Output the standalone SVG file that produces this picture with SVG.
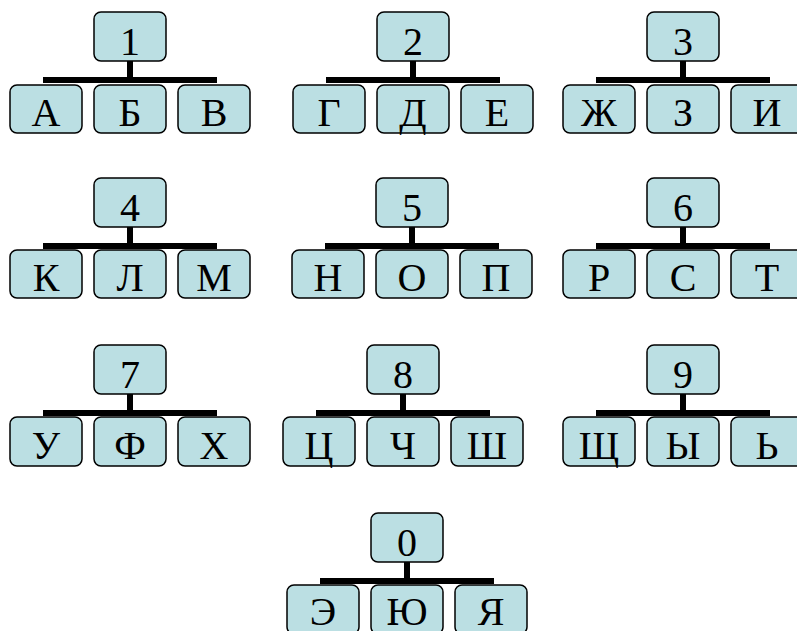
<svg xmlns="http://www.w3.org/2000/svg" width="797" height="631" viewBox="0 0 797 631">
<style>
.b{fill:#bbdfe3;stroke:#000;stroke-width:1.5}
.t{font-family:"Liberation Serif","Times New Roman",serif;font-size:40px;fill:#000;text-anchor:middle}
.c{fill:#000}
</style>
<rect width="797" height="631" fill="#fff"/>
<g id="connectors">
<rect class="c" x="127" y="61" width="6" height="19"/><rect class="c" x="43" y="77" width="174" height="6"/>
<rect class="c" x="410" y="61" width="6" height="19"/><rect class="c" x="326" y="77" width="174" height="6"/>
<rect class="c" x="680" y="61" width="6" height="19"/><rect class="c" x="596" y="77" width="174" height="6"/>
<rect class="c" x="127" y="227" width="6" height="19"/><rect class="c" x="43" y="243" width="174" height="6"/>
<rect class="c" x="409" y="227" width="6" height="19"/><rect class="c" x="325" y="243" width="174" height="6"/>
<rect class="c" x="680" y="227" width="6" height="19"/><rect class="c" x="596" y="243" width="174" height="6"/>
<rect class="c" x="127" y="394" width="6" height="19"/><rect class="c" x="43" y="410" width="174" height="6"/>
<rect class="c" x="400" y="394" width="6" height="19"/><rect class="c" x="316" y="410" width="174" height="6"/>
<rect class="c" x="680" y="394" width="6" height="19"/><rect class="c" x="596" y="410" width="174" height="6"/>
<rect class="c" x="404" y="562" width="6" height="19"/><rect class="c" x="320" y="578" width="174" height="6"/>
</g>
<g id="n1"><rect class="b" x="94" y="12" width="72" height="49" rx="7"/><text class="t" x="130" y="55">1</text></g>
<g id="nA"><rect class="b" x="10" y="85" width="72" height="48" rx="7"/><text class="t" x="46" y="126">А</text></g>
<g id="nB"><rect class="b" x="94" y="85" width="72" height="48" rx="7"/><text class="t" x="130" y="126">Б</text></g>
<g id="nV"><rect class="b" x="178" y="85" width="72" height="48" rx="7"/><text class="t" x="214" y="126">В</text></g>
<g id="n2"><rect class="b" x="377" y="12" width="72" height="49" rx="7"/><text class="t" x="413" y="55">2</text></g>
<g id="nG"><rect class="b" x="293" y="85" width="72" height="48" rx="7"/><text class="t" x="329" y="126">Г</text></g>
<g id="nD"><rect class="b" x="377" y="85" width="72" height="48" rx="7"/><text class="t" x="413" y="126">Д</text></g>
<g id="nE"><rect class="b" x="461" y="85" width="72" height="48" rx="7"/><text class="t" x="497" y="126">Е</text></g>
<g id="n3"><rect class="b" x="647" y="12" width="72" height="49" rx="7"/><text class="t" x="683" y="55">3</text></g>
<g id="nZh"><rect class="b" x="563" y="85" width="72" height="48" rx="7"/><text class="t" x="599" y="126">Ж</text></g>
<g id="nZ"><rect class="b" x="647" y="85" width="72" height="48" rx="7"/><text class="t" x="683" y="126">З</text></g>
<g id="nI"><rect class="b" x="731" y="85" width="72" height="48" rx="7"/><text class="t" x="767" y="126">И</text></g>
<g id="n4"><rect class="b" x="94" y="178" width="72" height="49" rx="7"/><text class="t" x="130" y="221">4</text></g>
<g id="nK"><rect class="b" x="10" y="250" width="72" height="48" rx="7"/><text class="t" x="46" y="291">К</text></g>
<g id="nL"><rect class="b" x="94" y="250" width="72" height="48" rx="7"/><text class="t" x="130" y="291">Л</text></g>
<g id="nM"><rect class="b" x="178" y="250" width="72" height="48" rx="7"/><text class="t" x="214" y="291">М</text></g>
<g id="n5"><rect class="b" x="376" y="178" width="72" height="49" rx="7"/><text class="t" x="412" y="221">5</text></g>
<g id="nN"><rect class="b" x="292" y="250" width="72" height="48" rx="7"/><text class="t" x="328" y="291">Н</text></g>
<g id="nO"><rect class="b" x="376" y="250" width="72" height="48" rx="7"/><text class="t" x="412" y="291">О</text></g>
<g id="nP"><rect class="b" x="460" y="250" width="72" height="48" rx="7"/><text class="t" x="496" y="291">П</text></g>
<g id="n6"><rect class="b" x="647" y="178" width="72" height="49" rx="7"/><text class="t" x="683" y="221">6</text></g>
<g id="nR"><rect class="b" x="563" y="250" width="72" height="48" rx="7"/><text class="t" x="599" y="291">Р</text></g>
<g id="nS"><rect class="b" x="647" y="250" width="72" height="48" rx="7"/><text class="t" x="683" y="291">С</text></g>
<g id="nT"><rect class="b" x="731" y="250" width="72" height="48" rx="7"/><text class="t" x="767" y="291">Т</text></g>
<g id="n7"><rect class="b" x="94" y="345" width="72" height="49" rx="7"/><text class="t" x="130" y="388">7</text></g>
<g id="nU"><rect class="b" x="10" y="417" width="72" height="49" rx="7"/><text class="t" x="46" y="459">У</text></g>
<g id="nF"><rect class="b" x="94" y="417" width="72" height="49" rx="7"/><text class="t" x="130" y="459">Ф</text></g>
<g id="nH"><rect class="b" x="178" y="417" width="72" height="49" rx="7"/><text class="t" x="214" y="459">Х</text></g>
<g id="n8"><rect class="b" x="367" y="345" width="72" height="49" rx="7"/><text class="t" x="403" y="388">8</text></g>
<g id="nTs"><rect class="b" x="283" y="417" width="72" height="49" rx="7"/><text class="t" x="319" y="459">Ц</text></g>
<g id="nCh"><rect class="b" x="367" y="417" width="72" height="49" rx="7"/><text class="t" x="403" y="459">Ч</text></g>
<g id="nSh"><rect class="b" x="451" y="417" width="72" height="49" rx="7"/><text class="t" x="487" y="459">Ш</text></g>
<g id="n9"><rect class="b" x="647" y="345" width="72" height="49" rx="7"/><text class="t" x="683" y="388">9</text></g>
<g id="nShch"><rect class="b" x="563" y="417" width="72" height="49" rx="7"/><text class="t" x="599" y="459">Щ</text></g>
<g id="nY"><rect class="b" x="647" y="417" width="72" height="49" rx="7"/><text class="t" x="683" y="459">Ы</text></g>
<g id="nSoft"><rect class="b" x="731" y="417" width="72" height="49" rx="7"/><text class="t" x="767" y="459">Ь</text></g>
<g id="n0"><rect class="b" x="371" y="513" width="72" height="49" rx="7"/><text class="t" x="407" y="556">0</text></g>
<g id="nEh"><rect class="b" x="287" y="585" width="72" height="49" rx="7"/><text class="t" x="323" y="625">Э</text></g>
<g id="nYu"><rect class="b" x="371" y="585" width="72" height="49" rx="7"/><text class="t" x="407" y="625">Ю</text></g>
<g id="nYa"><rect class="b" x="455" y="585" width="72" height="49" rx="7"/><text class="t" x="491" y="625">Я</text></g>
</svg>
